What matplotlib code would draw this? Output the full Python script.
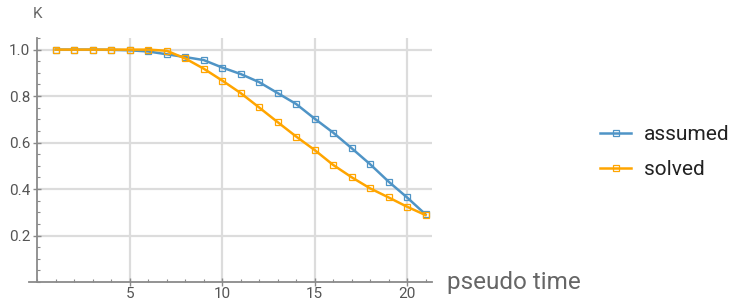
import matplotlib
matplotlib.use("Agg")
import matplotlib.pyplot as plt
from matplotlib.ticker import MultipleLocator

plt.rcParams['font.family'] = ['Roboto', 'DejaVu Sans']

# data
steps = list(range(1, 22))
assumed = [1.0, 1.0, 1.0, 0.999, 0.997, 0.992, 0.980, 0.968, 0.955, 0.923, 0.895,
           0.860, 0.813, 0.766, 0.703, 0.643, 0.576, 0.507, 0.432, 0.364, 0.291]
solved = [1.0, 1.0, 1.0, 1.0, 1.0, 1.0, 0.995, 0.962, 0.918, 0.867, 0.813,
          0.751, 0.688, 0.626, 0.568, 0.504, 0.451, 0.403, 0.364, 0.324, 0.288]
xticks = [5, 10, 15, 20]
yticks = [0.2, 0.4, 0.6, 0.8, 1.0]

blue = '#4f94c6'
orange = '#ffa500'
grey = '#555555'

fig = plt.figure(figsize=(7.32, 3.02), dpi=100)
ax = fig.add_axes([29 / 732, 1 - 282 / 302, (432 - 29) / 732, (282 - 38) / 302])
ax.set_xlim(-0.45, 21.35)
ax.set_ylim(0, 1.05)

# grid (Mathematica style, only from the axis outwards)
for t in xticks:
    ax.axvline(t, color='#dcdcdc', lw=1.6, zorder=0)
for t in yticks:
    ax.hlines(t, 0, 21.35, color='#dcdcdc', lw=1.6, zorder=0)

ax.plot(steps, assumed, color=blue, lw=1.8, marker='s', ms=5, mfc='none',
        mec=blue, mew=0.9, label='assumed', zorder=3)
ax.plot(steps, solved, color=orange, lw=1.8, marker='s', ms=5, mfc='none',
        mec=orange, mew=0.9, label='solved', zorder=3)

# axes through the origin
for s in ['top', 'right']:
    ax.spines[s].set_visible(False)
ax.spines['left'].set_position(('data', 0))
ax.spines['bottom'].set_position(('data', 0))
for s in ['left', 'bottom']:
    ax.spines[s].set_color('#8a8a8a')
    ax.spines[s].set_linewidth(1.3)

ax.set_xticks(xticks)
ax.set_yticks(yticks)
ax.set_yticklabels([f'{t:.1f}' for t in yticks])
ax.xaxis.set_minor_locator(MultipleLocator(1))
ax.yaxis.set_minor_locator(MultipleLocator(0.05))
ax.tick_params(which='major', direction='inout', length=6, width=1, color='#8a8a8a',
               labelsize=11, labelcolor=grey)
ax.tick_params(axis='x', which='major', pad=0.5)
ax.tick_params(axis='y', which='major', pad=2)
ax.tick_params(which='minor', direction='in', length=2.5, width=0.8, color='#8a8a8a')

fig.text(447 / 732, 1 - 283 / 302, 'pseudo time', ha='left', va='center',
         fontsize=17.5, color='#666666')
fig.text(33 / 732, 1 - 14 / 302, 'K', ha='left', va='center',
         fontsize=11, color='#666666')

ax.legend(loc='center left', bbox_to_anchor=(600 / 732, 1 - 152 / 302),
          bbox_transform=fig.transFigure, frameon=False, fontsize=15,
          handlelength=1.5, handletextpad=0.6, labelspacing=0.75,
          borderpad=0, borderaxespad=0, labelcolor='#222222')

fig.savefig('out.png', dpi=100)
